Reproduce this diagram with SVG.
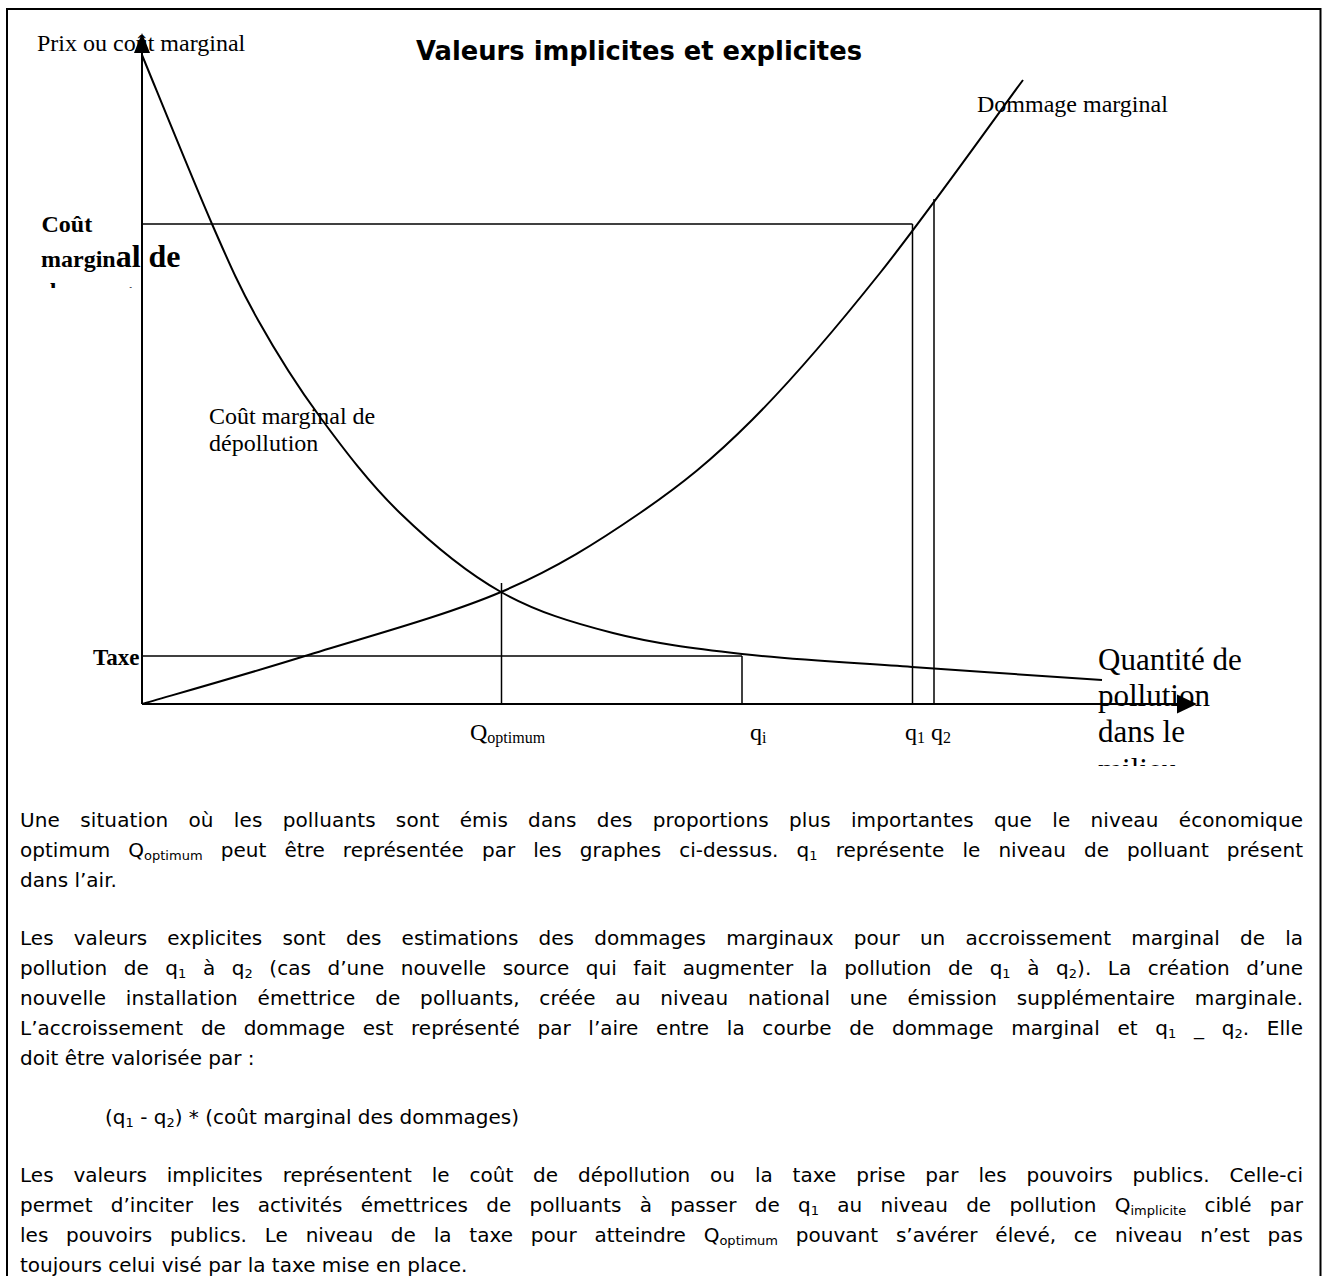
<svg xmlns="http://www.w3.org/2000/svg" width="1323" height="1276" viewBox="0 0 1323 1276">
  <defs>
    <style>
      .serif { font-family: "Liberation Serif", "Times New Roman", serif; fill: #000; }
      .bold { font-weight: bold; }
      .body { font-family: "DejaVu Sans", "Liberation Sans", sans-serif; font-size: 20px; fill: #000; }
      .sub { font-size: 13px; }
      .gsub { font-size: 16px; }
      .ln { stroke: #000; stroke-width: 1.5; fill: none; }
      .ax { stroke: #000; stroke-width: 2; fill: none; }
      .crv { stroke: #000; stroke-width: 2; fill: none; stroke-linejoin: round; }
      .head { fill: #000; stroke: none; }
    </style>
    <clipPath id="clipDmgLabel">
      <rect x="0" y="200" width="300" height="88"/>
    </clipPath>
    <clipPath id="clipQtyLabel">
      <rect x="1090" y="640" width="200" height="126"/>
    </clipPath>
  </defs>

  <rect width="1323" height="1276" fill="#fff"/>

  <!-- page frame, open at the bottom -->
  <path id="frame" d="M7,1290 V9 H1320.5 V1290" fill="none" stroke="#000" stroke-width="2"/>

  <!-- title -->
  <text id="title" x="416" y="60" font-family="DejaVu Sans, Liberation Sans, sans-serif" font-weight="bold" font-size="26" textLength="446" lengthAdjust="spacingAndGlyphs">Valeurs implicites et explicites</text>

  <!-- axis and curve labels (drawn beneath the lines) -->
  <g id="labels">
    <text id="lbl-y" class="serif" x="37" y="51" font-size="24">Prix ou coût marginal</text>
    <text id="lbl-dommage" class="serif" x="977" y="112" font-size="24">Dommage marginal</text>
    <g id="lbl-depollution">
      <text class="serif" x="209" y="424" font-size="24">Coût marginal de</text>
      <text class="serif" x="209" y="451" font-size="24">dépollution</text>
    </g>
    <g id="lbl-cmd" clip-path="url(#clipDmgLabel)">
      <text class="serif bold" x="41.5" y="231.5" font-size="24">Coût</text>
      <text class="serif bold" x="41" y="266.5"><tspan font-size="24">margin</tspan><tspan font-size="32">al de</tspan></text>
      <text class="serif bold" x="43" y="299" font-size="24">dommage</text>
    </g>
    <text id="lbl-taxe" class="serif bold" x="139.5" y="665" font-size="23" text-anchor="end">Taxe</text>
    <g id="lbl-x" clip-path="url(#clipQtyLabel)">
      <text class="serif" x="1098" y="670" font-size="31">Quantité de</text>
      <text class="serif" x="1098" y="706" font-size="31">pollution</text>
      <text class="serif" x="1098" y="742" font-size="31">dans le</text>
      <text class="serif" x="1098" y="780" font-size="31">milieu</text>
    </g>
    <text id="lbl-qopt" class="serif" x="470" y="740" font-size="24">Q<tspan class="gsub" dy="3">optimum</tspan></text>
    <text id="lbl-qi" class="serif" x="750" y="740" font-size="24">q<tspan class="gsub" dy="3">i</tspan></text>
    <text id="lbl-q1q2" class="serif" x="905" y="740" font-size="24">q<tspan class="gsub" dy="3">1</tspan><tspan dy="-3"> q</tspan><tspan class="gsub" dy="3">2</tspan></text>
  </g>

  <!-- reference lines -->
  <g id="guides">
    <path class="ln" d="M142,224 H912.5"/>
    <path class="ln" d="M142,656 H742"/>
    <path class="ln" d="M501.5,583 V704"/>
    <path class="ln" d="M742,656 V704"/>
    <path class="ln" d="M912.5,224 V704"/>
    <path class="ln" d="M934,199 V704"/>
  </g>

  <!-- curves -->
  <g id="curves">
    <path id="curve-depollution" class="crv" d="M142,55 C153.7,83.2 192.7,179.8 212,224 C231.3,268.2 240,287.8 258,320 C276,352.2 296.3,384.8 320,417 C343.7,449.2 369.8,483.8 400,513 C430.2,542.2 465.5,572 501,592 C536.5,612 572.8,622.7 613,633 C653.2,643.3 692.2,648.3 742,654 C791.8,659.7 852,662.7 912,667 C972,671.3 1070.3,677.8 1102,680"/>
    <path id="curve-dommage" class="crv" d="M142,704 C169.2,696 245.2,674.7 305,656 C364.8,637.3 445.2,615.8 501,592 C556.8,568.2 598.2,541.7 640,513 C681.8,484.3 712,460 752,420 C792,380 834.8,329.7 880,273 C925.2,216.3 999.2,112.2 1023,80"/>
  </g>

  <!-- axes -->
  <g id="axes">
    <path class="ax" d="M142,704 V50"/>
    <path class="ax" d="M142,704 H1180"/>
    <path class="head" d="M142,33 L150,53 L134,53 Z"/>
    <path class="head" d="M1197,704 L1177,694.5 L1177,713.5 Z"/>
  </g>

  <!-- explanatory text -->
  <g id="body-text" class="body">
    <text x="20" y="827" word-spacing="13.7" textLength="1283" lengthAdjust="spacing">Une situation où les polluants sont émis dans des proportions plus importantes que le niveau économique</text>
    <text x="20" y="857" word-spacing="11.7" textLength="1283" lengthAdjust="spacing">optimum Q<tspan class="sub" dy="3">optimum</tspan><tspan dy="-3"> peut être représentée par les graphes ci-dessus. q</tspan><tspan class="sub" dy="3">1</tspan><tspan dy="-3"> représente le niveau de polluant présent</tspan></text>
    <text x="20" y="887">dans l’air.</text>

    <text x="20" y="945" word-spacing="13.8" textLength="1283" lengthAdjust="spacing">Les valeurs explicites sont des estimations des dommages marginaux pour un accroissement marginal de la</text>
    <text x="20" y="975" word-spacing="10.2" textLength="1283" lengthAdjust="spacing">pollution de q<tspan class="sub" dy="3">1</tspan><tspan dy="-3"> à q</tspan><tspan class="sub" dy="3">2</tspan><tspan dy="-3"> (cas d’une nouvelle source qui fait augmenter la pollution de q</tspan><tspan class="sub" dy="3">1</tspan><tspan dy="-3"> à q</tspan><tspan class="sub" dy="3">2</tspan><tspan dy="-3">). La création d’une</tspan></text>
    <text x="20" y="1005" word-spacing="13.2" textLength="1283" lengthAdjust="spacing">nouvelle installation émettrice de polluants, créée au niveau national une émission supplémentaire marginale.</text>
    <text x="20" y="1035" word-spacing="11.3" textLength="1283" lengthAdjust="spacing">L’accroissement de dommage est représenté par l’aire entre la courbe de dommage marginal et q<tspan class="sub" dy="3">1</tspan><tspan dy="-3"> _ q</tspan><tspan class="sub" dy="3">2</tspan><tspan dy="-3">. Elle</tspan></text>
    <text x="20" y="1065">doit être valorisée par :</text>

    <text x="105" y="1124">(q<tspan class="sub" dy="3">1</tspan><tspan dy="-3"> - q</tspan><tspan class="sub" dy="3">2</tspan><tspan dy="-3">) * (coût marginal des dommages)</tspan></text>

    <text x="20" y="1182" word-spacing="13.5" textLength="1283" lengthAdjust="spacing">Les valeurs implicites représentent le coût de dépollution ou la taxe prise par les pouvoirs publics. Celle-ci</text>
    <text x="20" y="1212" word-spacing="11.9" textLength="1283" lengthAdjust="spacing">permet d’inciter les activités émettrices de polluants à passer de q<tspan class="sub" dy="3">1</tspan><tspan dy="-3"> au niveau de pollution Q</tspan><tspan class="sub" dy="3">implicite</tspan><tspan dy="-3"> ciblé par</tspan></text>
    <text x="20" y="1242" word-spacing="11.4" textLength="1283" lengthAdjust="spacing">les pouvoirs publics. Le niveau de la taxe pour atteindre Q<tspan class="sub" dy="3">optimum</tspan><tspan dy="-3"> pouvant s’avérer élevé, ce niveau n’est pas</tspan></text>
    <text x="20" y="1272">toujours celui visé par la taxe mise en place.</text>
  </g>
</svg>
